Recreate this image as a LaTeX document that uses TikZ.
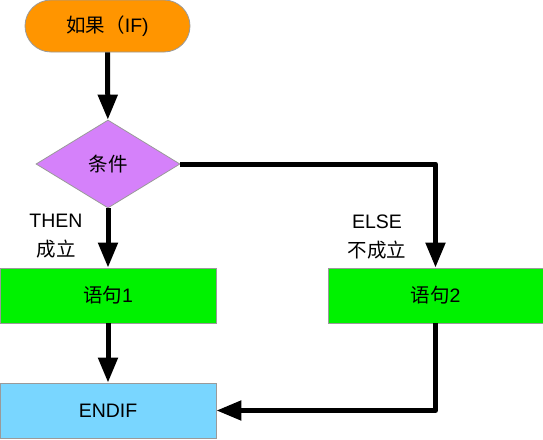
\documentclass[tikz,border=0pt]{standalone}
\usepackage{fontspec}
\setmainfont{Liberation Sans}
\newfontfamily\cjk{Noto Sans CJK SC}
\usetikzlibrary{arrows.meta,shapes.geometric}
\definecolor{ifor}{HTML}{FF9500}
\definecolor{condp}{HTML}{D581FA}
\definecolor{stg}{HTML}{00F200}
\definecolor{endb}{HTML}{79D6FF}
\definecolor{bord}{HTML}{9A9A9A}
\tikzset{
  every node/.style={font=\fontsize{19.5}{29}\selectfont, inner sep=0pt},
  stepbox/.style={draw=bord, line width=0.8pt, minimum width=216pt, minimum height=55pt},
  flow/.style={line width=5pt, line join=round, -{Triangle[length=25pt,width=19pt]}},
}
\begin{document}
\begin{tikzpicture}[x=1pt,y=-1pt]
\useasboundingbox (0,0) rectangle (543,439);
\node[draw=bord, line width=0.8pt, fill=ifor, rounded corners=26pt, minimum width=165pt, minimum height=52pt] (if) at (107.5,26) {{\cjk 如果（}IF)};
\node[diamond, draw=bord, line width=0.8pt, fill=condp, minimum width=144pt, minimum height=88pt, shape aspect=1.636] (cond) at (108,164) {\cjk 条件};
\node[stepbox, fill=stg] (s1) at (108,295.5) {{\cjk 语句}1};
\node[stepbox, fill=stg, minimum width=215pt] (s2) at (435.5,295.5) {{\cjk 语句}2};
\node[stepbox, fill=endb] (end) at (108,410.5) {ENDIF};
\node[align=center] (then) at (56,236) {THEN\\{\cjk 成立}};
\node[align=center] (else) at (377,237) {ELSE\\{\cjk 不成立}};
\draw[flow] (if) -- (cond);
\draw[flow] (cond) -- (s1);
\draw[flow] (cond.east) -| (s2.north);
\draw[flow] (s1) -- (end);
\draw[flow] (s2.south) |- (end.east);
\end{tikzpicture}
\end{document}
